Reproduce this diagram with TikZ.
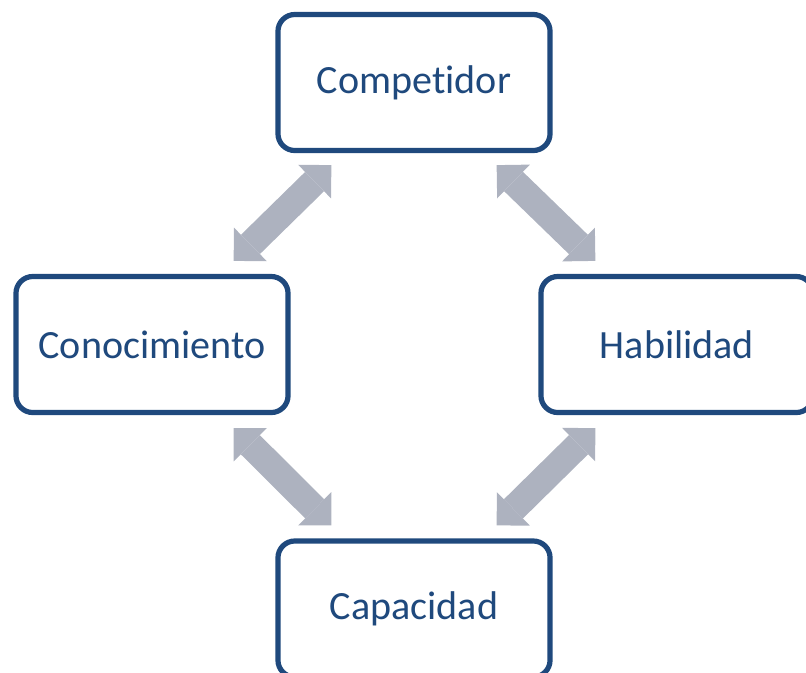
\documentclass[tikz,border=0pt]{standalone}
\usepackage{fontspec}
\setmainfont{Carlito}[Ligatures=NoCommon]
\usetikzlibrary{arrows.meta}
\definecolor{boxblue}{RGB}{31,73,125}
\definecolor{arrowgrey}{RGB}{173,178,191}
\tikzset{
  box/.style={draw=boxblue, line width=0.13cm, rounded corners=0.42cm, fill=white,
    minimum width=6.8cm, minimum height=3.4cm, text=boxblue,
    font=\fontsize{28.5}{34}\selectfont},
  bighead/.tip={Triangle[width=1.175cm,length=0.5875cm,line width=0pt]},
  twoway/.style={draw=arrowgrey, line width=0.675cm, bighead-bighead}
}
\begin{document}
\begin{tikzpicture}[x=0.025cm,y=-0.025cm]
	\useasboundingbox (0,0) rectangle (806,672);

	\node[box] (comp) at (414,82.5) {Competidor};
	\node[box] (con) at (152,344.5) {Conocimiento};
	\node[box] (hab) at (677,344.5) {Habilidad};
	\node[box] (cap) at (414,609) {Capacidad};

	\draw[twoway] ([shift={(56,12)}]comp.south west) -- ([shift={(-57,-13)}]con.north east);
	\draw[twoway] ([shift={(-56,12)}]comp.south east) -- ([shift={(57,-13)}]hab.north west);
	\draw[twoway] ([shift={(-57,13)}]con.south east) -- ([shift={(56,-13)}]cap.north west);
	\draw[twoway] ([shift={(57,13)}]hab.south west) -- ([shift={(-56,-13)}]cap.north east);
\end{tikzpicture}
\end{document}
